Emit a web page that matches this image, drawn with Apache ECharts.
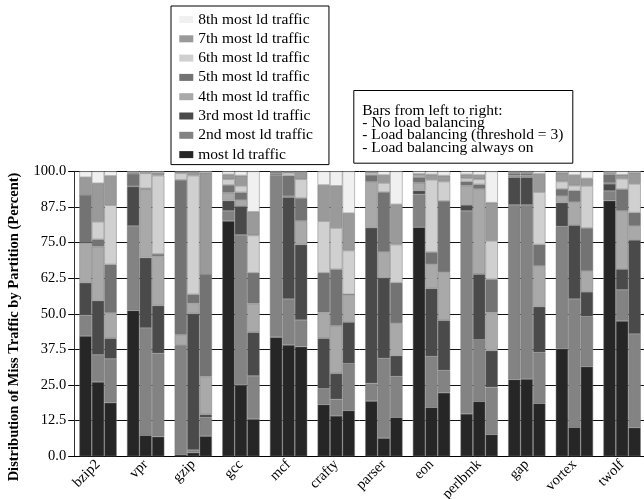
<!DOCTYPE html>
<html>
<head>
<meta charset="utf-8">
<script src="https://cdn.jsdelivr.net/npm/echarts@6/dist/echarts.min.js"></script>
<style>
  html, body { margin: 0; padding: 0; background: #fff; }
  #chart { width: 644px; height: 499px; }
</style>
</head>
<body>
<div id="chart"></div>
<script>
// Benchmarks on the x axis
const benchmarks = ['bzip2', 'vpr', 'gzip', 'gcc', 'mcf', 'crafty', 'parser', 'eon', 'perlbmk', 'gap', 'vortex', 'twolf'];

// Partition ranks, bottom of each stack first
const partitionNames = ['most ld traffic', '2nd most ld traffic', '3rd most ld traffic', '4th most ld traffic',
  '5th most ld traffic', '6th most ld traffic', '7th most ld traffic', '8th most ld traffic'];

const partitionColors = ['#262626', '#838383', '#4a4a4a', '#a9a9a9', '#737373', '#d0d0d0', '#9a9a9a', '#f0f0f0'];

// Percent of miss traffic per partition rank, one row per benchmark
const noLoadBalancing = [
  [42.2, 7.3, 11.4, 14.1, 16.5, 0.0, 6.4, 2.1],
  [51.2, 29.6, 13.8, 0.2, 4.3, 0.2, 0.3, 0.4],
  [0.7, 38.1, 0.3, 3.5, 54.4, 2.3, 0.5, 0.2],
  [82.6, 3.5, 3.6, 2.8, 2.7, 2.0, 1.7, 1.1],
  [41.8, 56.8, 0.4, 0.3, 0.4, 0.1, 0.1, 0.1],
  [18.2, 5.5, 17.7, 9.1, 13.9, 18.1, 12.7, 4.8],
  [19.4, 6.2, 54.6, 16.1, 2.4, 0.8, 0.4, 0.1],
  [80.4, 11.5, 1.3, 2.8, 1.9, 0.6, 0.6, 0.9],
  [14.9, 71.2, 2.1, 6.8, 1.4, 1.1, 1.4, 1.1],
  [27.0, 61.2, 9.7, 0.6, 0.8, 0.3, 0.3, 0.1],
  [37.8, 42.8, 8.4, 2.3, 2.5, 2.6, 3.1, 0.5],
  [89.7, 3.4, 2.5, 0.3, 3.0, 0.3, 0.4, 0.4]
];

const loadBalancingThreshold3 = [
  [26.1, 9.5, 19.0, 19.0, 2.5, 6.2, 13.5, 4.2],
  [7.4, 37.6, 24.7, 24.0, 0.3, 5.3, 0.3, 0.4],
  [1.3, 0.9, 47.9, 3.6, 3.1, 41.7, 1.4, 0.1],
  [25.0, 52.7, 10.1, 2.1, 2.7, 2.3, 3.6, 1.5],
  [39.1, 16.1, 35.7, 0.4, 7.2, 1.0, 0.2, 0.3],
  [14.2, 5.8, 9.1, 16.7, 19.8, 14.5, 14.8, 5.1],
  [6.4, 28.0, 28.1, 9.2, 21.0, 3.2, 2.8, 1.3],
  [17.2, 17.8, 23.9, 8.5, 4.2, 25.4, 1.9, 1.1],
  [19.3, 21.6, 23.0, 29.9, 1.6, 1.8, 1.5, 1.3],
  [27.1, 61.1, 9.7, 0.6, 0.8, 0.3, 0.3, 0.1],
  [10.2, 45.0, 25.9, 8.1, 4.0, 1.8, 3.7, 1.3],
  [47.5, 10.9, 7.3, 20.4, 7.6, 3.7, 1.4, 1.2]
];

const loadBalancingAlwaysOn = [
  [18.8, 15.4, 7.2, 8.9, 17.0, 20.8, 10.3, 1.6],
  [6.9, 29.2, 16.8, 17.3, 0.8, 27.5, 1.0, 0.5],
  [7.1, 6.5, 1.1, 13.3, 35.7, 0.0, 35.8, 0.5],
  [13.1, 15.1, 15.3, 10.1, 10.8, 13.1, 8.3, 14.2],
  [38.5, 9.3, 26.5, 8.3, 8.0, 6.6, 2.6, 0.2],
  [16.1, 16.4, 14.6, 9.7, 0.0, 15.4, 13.1, 14.7],
  [13.7, 14.3, 7.3, 11.4, 14.2, 13.4, 14.1, 11.6],
  [22.3, 7.8, 17.6, 16.9, 25.0, 6.8, 2.1, 1.5],
  [7.7, 16.5, 12.9, 13.4, 11.6, 13.5, 13.4, 11.0],
  [18.6, 17.8, 16.1, 14.3, 7.5, 18.4, 6.4, 0.9],
  [31.5, 17.5, 8.7, 7.3, 15.1, 14.8, 2.6, 2.5],
  [10.1, 32.8, 33.0, 4.9, 4.7, 10.1, 3.9, 0.5]
];

const yTicks = [0, 12.5, 25, 37.5, 50, 62.5, 75, 87.5, 100];

const configs = [noLoadBalancing, loadBalancingThreshold3, loadBalancingAlwaysOn];
const FONT = 'Liberation Serif';

// One stack per configuration; ranks share a legend entry across stacks
const series = [];
partitionNames.forEach((name, rank) => {
  configs.forEach((rows, c) => {
    series.push({
      type: 'bar',
      name: name,
      stack: 'cfg' + c,
      barWidth: 12.47,
      barGap: '0%',
      data: rows.map(r => r[rank]),
      itemStyle: {
        color: partitionColors[rank],
        borderColor: 'rgba(120,120,120,0.8)',
        borderWidth: 0.6
      },
      emphasis: { disabled: true },
      animation: false
    });
  });
});

const chart = echarts.init(document.getElementById('chart'), null, { renderer: 'canvas' });
chart.setOption({
  animation: false,
  textStyle: { fontFamily: FONT },
  grid: { left: 74.2, top: 171.3, width: 571.7, height: 285, containLabel: false, outerBoundsMode: 'none' },
  xAxis: {
    type: 'category',
    data: benchmarks,
    axisLine: { lineStyle: { color: '#000', width: 1 } },
    axisTick: { alignWithLabel: true, length: 5, lineStyle: { color: '#000' } },
    axisLabel: { rotate: 45, fontFamily: FONT, fontSize: 14.5, color: '#000', margin: 6, interval: 0 },
    splitLine: { show: false }
  },
  yAxis: {
    type: 'value',
    min: yTicks[0],
    max: yTicks[yTicks.length - 1],
    interval: yTicks[1] - yTicks[0],
    axisLine: { show: true, lineStyle: { color: '#333', width: 1 } },
    axisTick: { show: true, length: 6, lineStyle: { color: '#000' } },
    axisLabel: { fontFamily: FONT, fontSize: 14.5, color: '#000', margin: 8,
      formatter: v => v.toFixed(1) },
    splitLine: { show: true, lineStyle: { color: '#111', width: 1 } }
  },
  legend: {
    orient: 'vertical',
    left: 171,
    top: 6,
    padding: [5.5, 16, 2, 8.3],
    backgroundColor: '#fff',
    borderColor: '#000',
    borderWidth: 1,
    icon: 'rect',
    itemWidth: 14,
    itemHeight: 7,
    itemGap: 3.3,
    itemStyle: { borderWidth: 0 },
    selectedMode: false,
    data: partitionNames.slice().reverse(),
    textStyle: { fontFamily: FONT, fontSize: 15.5, color: '#000', lineHeight: 14 }
  },
  graphic: [
    {
      type: 'text',
      x: 14,
      y: 327,
      rotation: Math.PI / 2,
      style: {
        text: 'Distribution of Miss Traffic by Partition (Percent)',
        font: 'bold 14.5px "Liberation Serif"',
        fill: '#000',
        align: 'center',
        verticalAlign: 'middle'
      }
    },
    {
      type: 'group',
      left: 353.3,
      top: 90,
      children: [
        {
          type: 'rect',
          shape: { x: 0, y: 0, width: 219, height: 72.7 },
          style: { fill: '#fff', stroke: '#000', lineWidth: 1 }
        },
        {
          type: 'text',
          x: 8.4,
          y: 13.9,
          style: {
            text: 'Bars from left to right:\n- No load balancing\n- Load balancing (threshold = 3)\n- Load balancing always on',
            font: '15.5px "Liberation Serif"',
            lineHeight: 12.3,
            fill: '#000',
            align: 'left',
            verticalAlign: 'top'
          }
        }
      ]
    }
  ],
  series: series
});
</script>
</body>
</html>
